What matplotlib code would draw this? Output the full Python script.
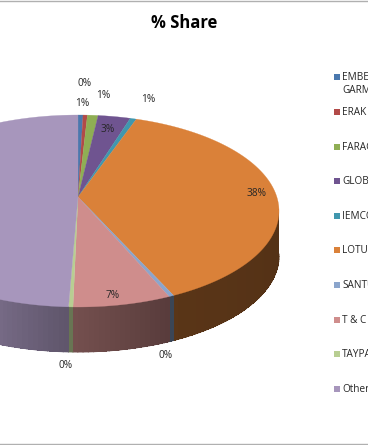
import numpy as np
import matplotlib
matplotlib.use("Agg")
import matplotlib.pyplot as plt
from matplotlib.patches import Polygon, Rectangle

plt.rcParams['font.family'] = ['Open Sans', 'DejaVu Sans']

# Share values
categories = ["EMBE\nGARM", "ERAK", "FARAG", "GLOB", "IEMCO", "LOTUS", "SANTU", "T & C", "TAYPA", "Other"]
shares = [0.4, 0.35, 0.85, 2.6, 0.5, 37.5, 0.4, 7.9, 0.35, 49.35]
share_labels = ["1%", "0%", "1%", "3%", "1%", "38%", "0%", "7%", "0%", None]
colors = ["#4A78AE", "#B24A48", "#8FAE54", "#6F5490", "#4097AE", "#DA8139", "#8BA5CC", "#CF8D8C", "#B8CE92", "#A796BC"]

# Where the data labels sit (pixels), Other's label falls outside the picture
label_pos = [(82, 104), (85, 83), (103, 96), (108, 129), (148, 99), (257, 194), (166, 355), (113, 295), (66, 366), None]

fig = plt.figure(figsize=(3.68, 4.45), dpi=100)
ax = fig.add_axes([0, 0, 1, 1])
ax.set_xlim(0, 368)
ax.set_ylim(445, 0)
ax.axis('off')

# Tilted pie geometry in pixels
cx, cy = 78, 211
rx, ry = 201, 96
apex_y = 197
depth = 45


def rim(t):
    rad = np.radians(t)
    return cx + rx * np.sin(rad), cy - ry * np.cos(rad)


edges = np.concatenate([[0], np.cumsum(shares)]) / sum(shares) * 360

# Side wall, drawn as strips so the shading can change along the rim
for i, color in enumerate(colors):
    base = np.array(matplotlib.colors.to_rgb(color))
    ts = np.append(np.arange(edges[i], edges[i + 1], 1.5), edges[i + 1])
    ts = ts[(ts >= 88) & (ts <= 272)] if len(ts) > 2 else ts
    for t0, t1 in zip(ts[:-1], ts[1:]):
        if t1 < 90 or t0 > 270:
            continue
        shade = np.interp((t0 + t1) / 2, [90, 150, 185, 205, 270], [0.38, 0.41, 0.58, 0.72, 0.8])
        x0, y0 = rim(t0)
        x1, y1 = rim(t1)
        ax.add_patch(Polygon([(x0, y0), (x1, y1), (x1, y1 + depth), (x0, y0 + depth)],
                             facecolor=base * shade, edgecolor='none', antialiased=False))
        # smooth the lower edge
        ax.plot([x0, x1], [y0 + depth, y1 + depth], color=base * shade, lw=0.7)

# Top face
for i, color in enumerate(colors):
    ts = np.linspace(edges[i], edges[i + 1], 200)
    xs, ys = rim(ts)
    pts = [(cx, apex_y)] + list(zip(xs, ys))
    ax.add_patch(Polygon(pts, facecolor=color, edgecolor=color, linewidth=0.2))

for lab, pos in zip(share_labels, label_pos):
    if lab is not None:
        ax.text(pos[0], pos[1], lab, fontsize=7.3, color="#262626", ha='center', va='center')

ax.text(184, 23, "% Share", fontsize=12, fontweight='bold', color="black", ha='center', va='center')

# Legend
y = 77
for cat, color in zip(categories, colors):
    ax.add_patch(Rectangle((334, y - 3), 6, 6, facecolor=color, edgecolor='none'))
    ax.text(342, y - 5, cat, fontsize=7.2, color="#262626", ha='left', va='top', linespacing=1.25)
    y += 34.6 if cat != categories[0] else 35

# Thin grey frame lines left from the screenshot
ax.axhline(1, color="#b0b0b0", lw=1)
ax.axhline(443.5, color="#b0b0b0", lw=1)

fig.savefig("out.png", dpi=100)
